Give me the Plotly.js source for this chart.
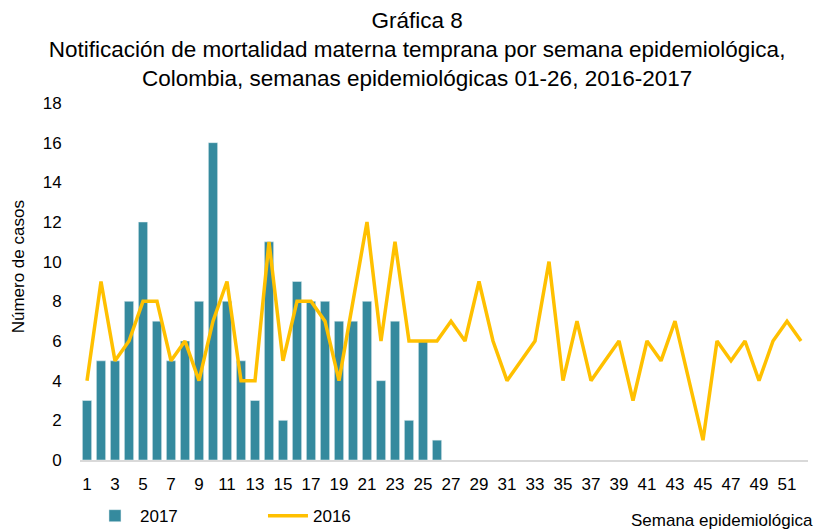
<!DOCTYPE html>
<html>
<head>
<meta charset="utf-8">
<script src="https://cdn.plot.ly/plotly-3.0.1.min.js"></script>
<style>html,body{margin:0;padding:0;background:#fff;}#chart{width:818px;height:531px;}</style>
</head>
<body>
<div id="chart"></div>
<script>
const weeks2017 = [1,2,3,4,5,6,7,8,9,10,11,12,13,14,15,16,17,18,19,20,21,22,23,24,25,26];
const cases2017 = [3,5,5,8,12,7,5,6,8,16,8,5,3,11,2,9,8,8,7,7,8,4,7,2,6,1];
const weeks2016 = [1,2,3,4,5,6,7,8,9,10,11,12,13,14,15,16,17,18,19,20,21,22,23,24,25,26,
                   27,28,29,30,31,32,33,34,35,36,37,38,39,40,41,42,43,44,45,46,47,48,49,50,51,52];
const cases2016 = [4,9,5,6,8,8,5,6,4,7,9,4,4,11,5,8,8,7,4,8,12,6,11,6,6,6,
                   7,6,9,6,4,5,6,10,4,7,4,5,6,3,6,5,7,4,1,6,5,6,4,6,7,6];
const seriesNames = ["2017", "2016"];
const titleText = "Gráfica 8<br>Notificación de mortalidad materna temprana por semana epidemiológica,<br>Colombia, semanas epidemiológicas 01-26, 2016-2017";
const yTitle = "Número de casos";
const xTitle = "Semana epidemiológica";

const FONT = "'Liberation Sans Narrow', 'Arial Narrow', 'Liberation Sans', Arial, sans-serif";

const traces = [
  {
    type: "bar",
    name: seriesNames[0],
    x: weeks2017,
    y: cases2017,
    marker: {color: "#358a9e", line: {color: "#e8f1f3", width: 0.5}},
    hoverinfo: "x+y"
  },
  {
    type: "scatter",
    mode: "lines",
    name: seriesNames[1],
    x: weeks2016,
    y: cases2016,
    line: {color: "#ffc000", width: 3.5},
    hoverinfo: "x+y"
  }
];

const layout = {
  width: 818,
  height: 531,
  paper_bgcolor: "#ffffff",
  plot_bgcolor: "#ffffff",
  font: {family: FONT, size: 17, color: "#000000"},
  margin: {l: 80, r: 10, t: 103, b: 71, pad: 0, autoexpand: false},
  title: {
    text: titleText,
    font: {family: FONT, size: 22.5, color: "#000000"},
    x: 0.463,
    xanchor: "center",
    xref: "paper",
    y: 0.948,
    yref: "container",
    yanchor: "top"
  },
  bargap: 0.34,
  xaxis: {
    range: [0.5, 52.5],
    tickmode: "linear",
    tick0: 1,
    dtick: 2,
    showgrid: false,
    zeroline: false,
    showline: true,
    linecolor: "#d9d9d9",
    linewidth: 2,
    ticks: "outside",
    ticklen: 8,
    tickcolor: "rgba(0,0,0,0)",
    tickfont: {family: FONT, size: 17, color: "#000000"},
    automargin: false,
    fixedrange: true
  },
  yaxis: {
    range: [0, 18],
    tickmode: "linear",
    tick0: 0,
    dtick: 2,
    showgrid: false,
    zeroline: false,
    showline: false,
    ticks: "outside",
    ticklen: 14,
    tickcolor: "rgba(0,0,0,0)",
    tickfont: {family: FONT, size: 17, color: "#000000"},
    automargin: false,
    fixedrange: true
  },
  showlegend: true,
  legend: {
    orientation: "h",
    xref: "container",
    yref: "container",
    x: 0.110,
    xanchor: "left",
    y: 0.028,
    yanchor: "middle",
    font: {family: FONT, size: 17, color: "#000000"},
    entrywidth: 118,
    entrywidthmode: "pixels",
    itemwidth: 40,
    bgcolor: "rgba(0,0,0,0)"
  },
  annotations: [
    {
      text: yTitle,
      xref: "paper", yref: "paper",
      x: -0.085, y: 0.54,
      xanchor: "center", yanchor: "middle",
      textangle: -90,
      showarrow: false,
      font: {family: FONT, size: 17, color: "#000000"}
    },
    {
      text: xTitle,
      xref: "paper", yref: "paper",
      x: 1.01, y: -0.17,
      xanchor: "right", yanchor: "middle",
      showarrow: false,
      font: {family: FONT, size: 17, color: "#000000"}
    }
  ]
};

Plotly.newPlot("chart", traces, layout, {displayModeBar: false, staticPlot: true});
</script>
</body>
</html>
